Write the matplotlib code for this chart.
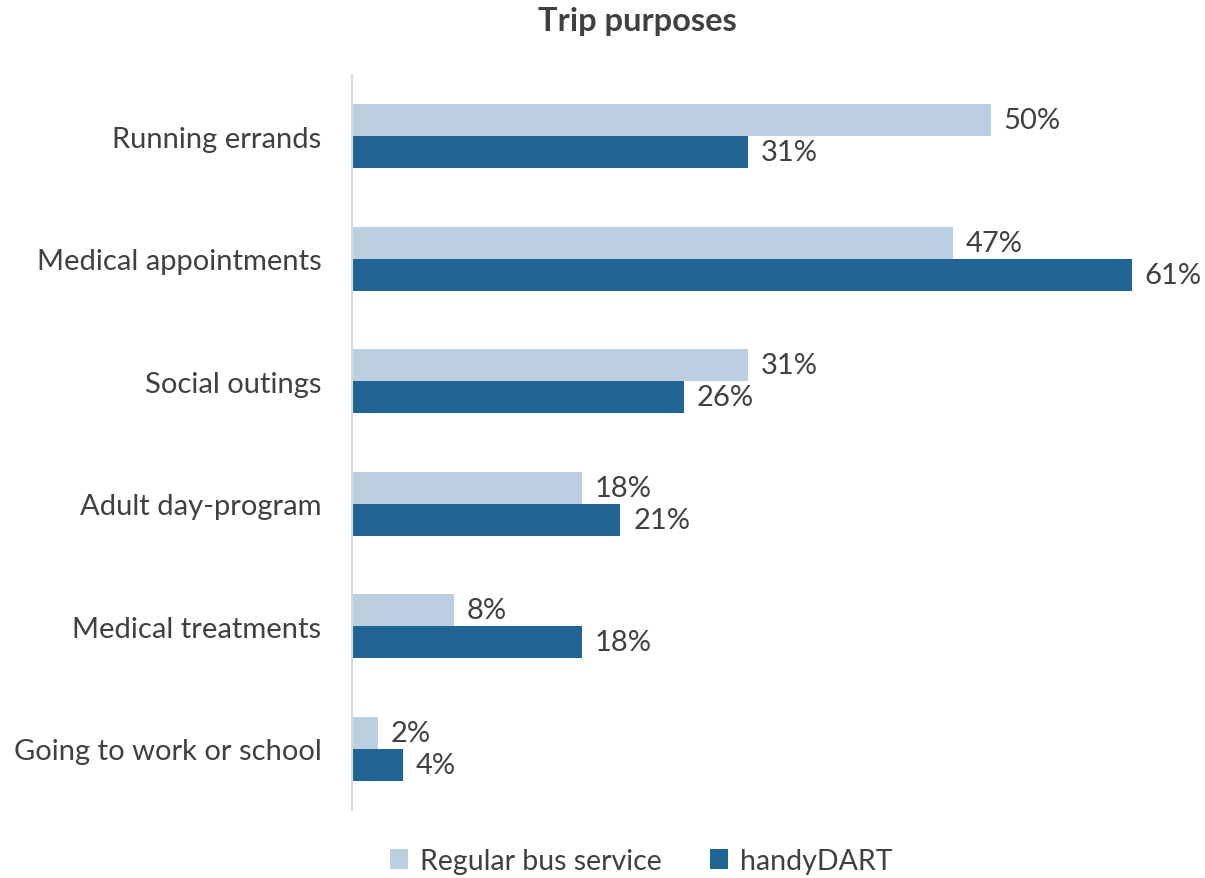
import numpy as np
import matplotlib.pyplot as plt

categories = ["Running errands", "Medical appointments", "Social outings",
              "Adult day-program", "Medical treatments", "Going to work or school"]
regular_bus = [50, 47, 31, 18, 8, 2]
handydart = [31, 61, 26, 21, 18, 4]
series_names = ["Regular bus service", "handyDART"]

light = "#BCCFE0"
dark = "#206493"
text_col = "#404040"

plt.rcParams['font.family'] = ['Lato', 'DejaVu Sans']

fig = plt.figure(figsize=(12.05, 8.79), dpi=100)
ax = fig.add_axes([352 / 1205, 1 - 811 / 879, (1190 - 352) / 1205, (811 - 76) / 879])

y = np.arange(len(categories))
h = 0.261
b1 = ax.barh(y - h / 2, regular_bus, height=h, color=light, label=series_names[0])
b2 = ax.barh(y + h / 2, handydart, height=h, color=dark, label=series_names[1])

# value labels just past the end of each bar
for bars, vals in ((b1, regular_bus), (b2, handydart)):
    for bar, v in zip(bars, vals):
        ax.text(v + 1.0, bar.get_y() + bar.get_height() / 2, f"{v}%",
                va="center", ha="left", fontsize=21, color=text_col)

ax.set_xlim(0, (1190 - 352) / 12.78)
ax.set_ylim(len(categories) - 0.5, -0.5)
ax.set_yticks(y)
ax.set_yticklabels(categories, fontsize=21, color=text_col)
ax.tick_params(axis="y", length=0, pad=22)
ax.set_xticks([])
for s in ("top", "right", "bottom"):
    ax.spines[s].set_visible(False)
ax.spines["left"].set_color("#D9D9D9")
ax.spines["left"].set_linewidth(1.5)

fig.text(637 / 1205, 1 - 22 / 879, "Trip purposes", ha="center", va="center",
         fontsize=23.5, fontweight="bold", color=text_col)

fig.legend(handles=[b1, b2], loc="center", bbox_to_anchor=(641 / 1205, 1 - 862 / 879),
           ncol=2, frameon=False, fontsize=20.5, labelcolor=text_col,
           handlelength=0.65, handleheight=0.65, columnspacing=1.7, handletextpad=0.4)

fig.savefig("out.png", dpi=100)
